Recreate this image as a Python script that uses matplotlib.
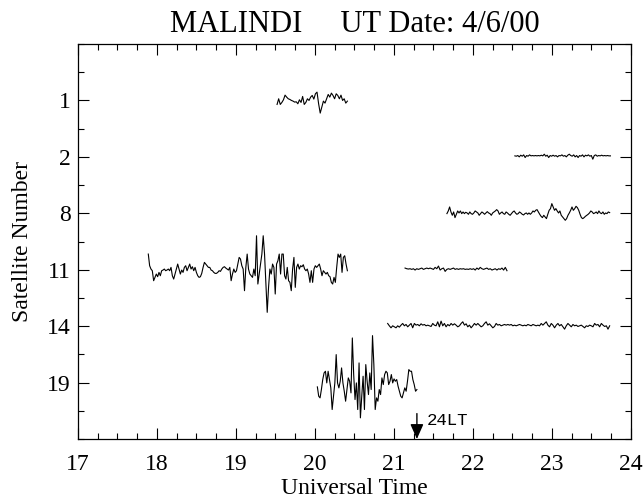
import numpy as np
import matplotlib
matplotlib.use("Agg")
import matplotlib.pyplot as plt
from matplotlib.ticker import MultipleLocator

plt.rcParams["font.family"] = ["Liberation Serif", "DejaVu Serif"]

# satellites shown top to bottom
sat_labels = ["1", "2", "8", "11", "14", "19"]

# dTEC traces, arbitrary units (positive = up), evenly sampled between start/end UT
sat1_t = (19.52, 20.41)
sat1_v = [-12, 5, -12, -6, 2, 16, 10, 5, 3, 0, -2, -5, -4, -10, 2, -6, 12, -12, -6, 5, 0, 10,
          15, 4, 20, 25, -10, -38, -20, -2, -8, 5, 18, 10, 22, 15, 5, 20, 15, 5, 16, 0, 5, -8, -2]

sat2_t = (22.53, 23.74)
sat2_v = [3, 2, 4, 0, 5, 2, 6, -2, 4, 2, 6, 3, 4, 3, 4, 3, 4, 3, 5, 3, 8, 2, 5, -2, 4, 2, 5, 2,
          4, 0, 4, 3, 6, 2, 4, 0, 5, 8, 4, 2, 6, 0, 4, -2, 4, 2, 6, 0, 5, 3, 6, 2, 4, -7, 4, 6,
          2, 4, 3, 5, 3, 4, 3, 4, 3, 3]

sat8_t = (21.67, 23.73)
sat8_v = [-1, 7, 19, 4, -6, 4, -13, -3, 7, 1, 7, -1, 4, -1, 3, 1, -3, 4, -1, -3, 1, 7, 4, 1, -6,
          -1, 4, 1, -3, 1, 5, 1, -1, -6, 1, 4, 7, 11, 7, -3, 1, 4, -1, -3, 4, 1, -3, -6, -1, 4,
          7, 1, -3, -1, 4, 1, -3, -5, -1, 1, -3, 1, -3, 1, 7, 4, 9, 11, 4, -3, -9, -13, -6, -11,
          -16, -3, 9, 14, 29, 19, 9, 14, 7, 1, 7, -6, -11, -16, -21, -16, -6, 1, 9, 19, 9, 14,
          21, 17, 9, -3, -13, -16, -13, -9, -6, -3, 1, 7, 4, -1, 1, 4, -1, 7, 1, -1, 4, -3, 1,
          -1, 4, 2]

sat11a_t = (17.89, 20.41)
sat11a_v = [47, 12, 2, -3, -33, -23, -13, -21, -8, -18, -3, -1, 2, -3, -1, 2, -3, 7, -18, -28,
            -13, 2, 17, 2, -13, -1, -8, 7, 12, -3, 7, 17, 2, 9, -3, 7, -8, -18, -23, -21, -11,
            7, 22, 17, 12, 7, 7, -1, -3, -8, -11, -11, -8, -3, -5, 2, 7, 9, 5, 2, -1, 7, -33,
            -13, 2, -8, -3, 17, 37, 32, 12, 2, -63, 7, 47, 2, -13, -18, -23, 2, -18, 102, -43,
            -13, 17, 47, 102, 47, -43, -128, -53, 2, -13, 17, 7, -73, 17, 27, 47, -13, 47, 47,
            -18, -28, 7, -33, -38, -63, 2, 37, -53, 7, 17, 2, 12, 9, 15, 2, -3, 2, -13, -38, -3,
            -38, 2, 12, 7, 12, 17, 2, -18, -3, -8, -13, -8, -18, -21, -38, -43, -23, -38, 7, 47,
            37, 47, -8, 37, 42, 17, -3]

sat11b_t = (21.14, 22.43)
sat11b_v = [5, 3, 2, 3, 1, 3, -1, 3, 1, 3, 5, 1, 3, 5, 3, 5, 3, 1, 7, 3, 11, -1, 3, 5, -5, 1, 3,
            1, 3, 5, 1, 3, 1, 3, 2, 3, 1, 2, 1, 3, 1, 3, -1, 5, 1, 7, 3, 1, 3, 5, 1, 3, -1, 1, 3,
            -1, 3, 1, 5, -1, 7, -3]

sat14_t = (20.92, 23.73)
sat14_v = [8, 1, -5, 1, -2, -5, 1, -3, 3, 8, 1, 5, -2, 3, 8, -5, 8, 3, 5, 1, 7, 3, 5, 1, 3, 1,
           -1, 8, 3, 1, 13, -2, 15, 1, 8, -2, 5, 1, 8, 3, 7, 3, -2, 1, 8, 13, 3, 7, -2, 3, -5, 1,
           8, 3, 8, 3, -2, 1, 8, 13, 3, 7, 1, -5, -1, 8, 3, 5, 1, 3, 5, 3, 5, 3, 5, 1, 3, 1, 3,
           5, 3, 1, 3, 1, 5, 3, 1, 5, 3, 1, 3, 1, 8, 3, 8, 13, 3, -2, 8, 3, -5, 3, 8, 1, 5, -2,
           -9, 1, 8, 3, -2, 5, 1, 3, -1, 1, 3, -1, -5, 1, -1, 3, 1, -2, 8, 3, 5, -2, 8, 3, -1, 1,
           -9, 1]

sat19_t = (20.03, 21.29)
sat19_v = [-13, -41, -46, -21, 9, 29, 34, -1, 34, 9, -16, -81, -41, -1, 84, -1, -16, 4, 44, -1,
           -26, -56, -21, 14, 4, -31, 134, 24, -51, -1, -81, 59, -106, -41, 19, -81, 54, 4, -36,
           29, -21, 141, 54, -81, -46, -56, -21, -36, 14, -6, 24, 34, 29, -6, 4, 24, -1, 11, 4,
           9, -11, -26, -41, -46, -31, -16, -26, 4, 39, 34, 34, 9, -6, -26, -21]

traces = [
    (1, sat1_t, sat1_v),
    (2, sat2_t, sat2_v),
    (3, sat8_t, sat8_v),
    (4, sat11a_t, sat11a_v),
    (4, sat11b_t, sat11b_v),
    (5, sat14_t, sat14_v),
    (6, sat19_t, sat19_v),
]
row_scale = 0.0059   # dTEC units -> row heights
lt24_ut = 21.29

fig = plt.figure(figsize=(6.44, 4.98), dpi=100)
ax = fig.add_axes([0.1211, 0.1185, 0.8587, 0.7931])

for row, (t0, t1), vals in traces:
    vals = np.array(vals, dtype=float)
    t = np.linspace(t0, t1, len(vals))
    ax.plot(t, row - vals * row_scale, color="black", lw=0.8)

ax.set_xlim(17, 24)
ax.set_ylim(7, 0)
ax.set_yticks(range(1, 7))
ax.set_yticklabels(sat_labels)
ax.yaxis.set_minor_locator(MultipleLocator(0.5))
ax.xaxis.set_major_locator(MultipleLocator(1))
ax.xaxis.set_minor_locator(MultipleLocator(0.25))
ax.tick_params(which="both", direction="in", top=True, right=True, width=0.8,
               labelsize=17)
ax.tick_params(which="major", length=8)
ax.tick_params(which="minor", length=4)
ax.tick_params(axis="x", pad=11)
ax.tick_params(axis="y", pad=5)
for s in ax.spines.values():
    s.set_linewidth(0.9)

ax.set_xlabel("Universal Time", fontsize=17, labelpad=2)
ax.set_ylabel("Satellite Number", fontsize=17, labelpad=10)
ax.set_title("MALINDI     UT Date: 4/6/00", fontsize=22, pad=9)

# 24 LT marker
ax.annotate("", xy=(lt24_ut, 7), xytext=(lt24_ut, 6.55),
            arrowprops=dict(arrowstyle="-|>,head_length=0.45,head_width=0.2",
                            color="black", lw=1, mutation_scale=20,
                            shrinkA=0, shrinkB=0))
ax.text(lt24_ut + 0.13, 6.67, "24LT", family=["Liberation Mono", "DejaVu Sans Mono"],
        fontsize=12.5, va="center", ha="left")

fig.savefig("out.png", dpi=100)
